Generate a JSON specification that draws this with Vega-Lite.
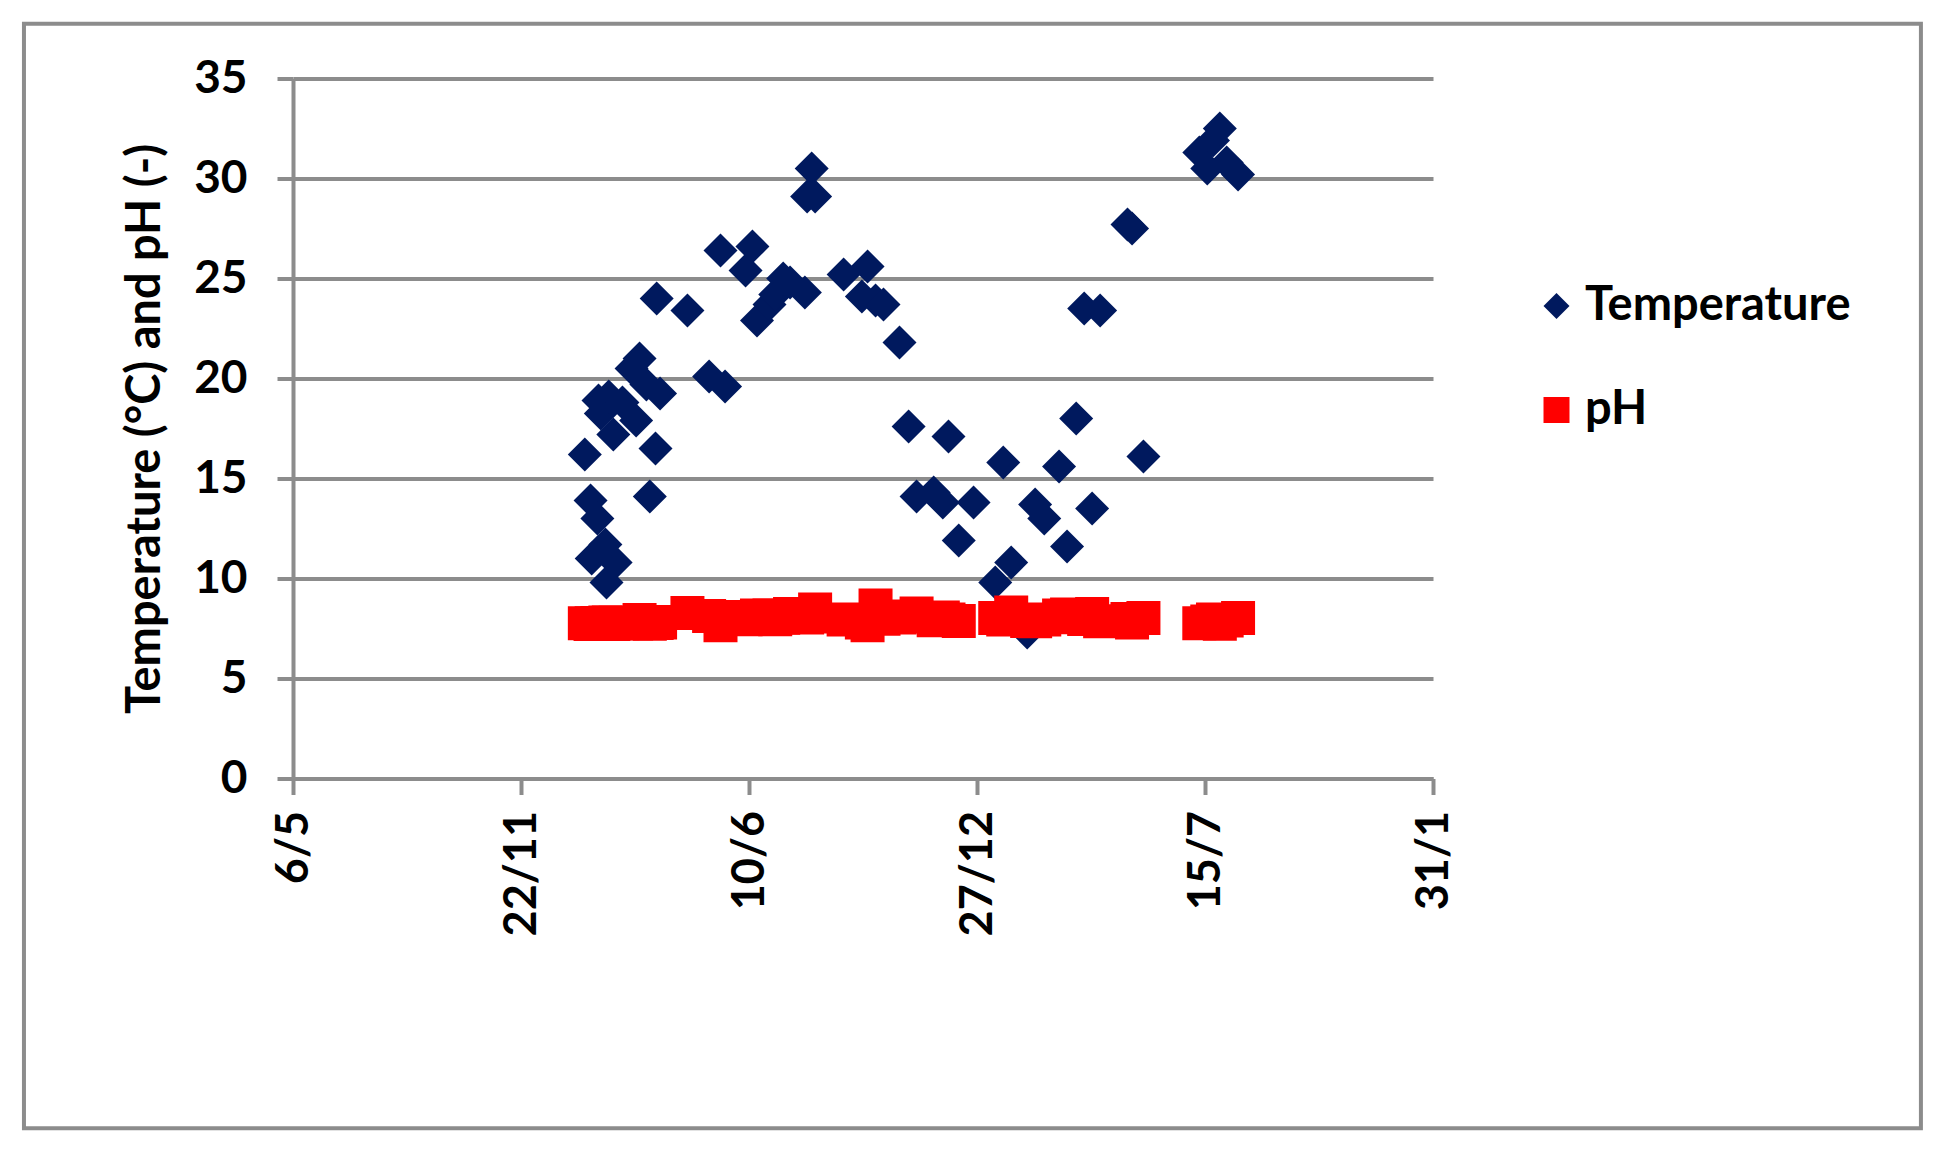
{
  "$schema": "https://vega.github.io/schema/vega-lite/v6.json",
  "background": "white",
  "padding": {"left": 21, "top": 21.5, "right": 20, "bottom": 20},
  "width": 1140,
  "height": 700,
  "config": {"view": {"stroke": null}, "font": "Lato"},
  "data": {"values": [
    {"date": "2013-01-17", "Temperature": 16.2, "pH": 7.76},
    {"date": "2013-01-22", "Temperature": 13.9, "pH": 7.72},
    {"date": "2013-01-23", "Temperature": 11.0, "pH": 7.76},
    {"date": "2013-01-28", "Temperature": 13.0, "pH": 7.78},
    {"date": "2013-01-29", "Temperature": 18.9, "pH": 7.74},
    {"date": "2013-01-31", "Temperature": 18.25, "pH": 7.78},
    {"date": "2013-02-04", "Temperature": 11.7, "pH": 7.80},
    {"date": "2013-02-05", "Temperature": 9.8, "pH": 7.76},
    {"date": "2013-02-07", "Temperature": 19.1, "pH": 7.80},
    {"date": "2013-02-11", "Temperature": 17.2, "pH": 7.73},
    {"date": "2013-02-13", "Temperature": 10.8, "pH": 7.79},
    {"date": "2013-02-19", "Temperature": 18.8, "pH": 7.76},
    {"date": "2013-02-27", "Temperature": 20.5, "pH": 7.78},
    {"date": "2013-03-03", "Temperature": 17.9, "pH": 7.75},
    {"date": "2013-03-06", "Temperature": 21.0, "pH": 7.93},
    {"date": "2013-03-12", "Temperature": 19.7, "pH": 7.80},
    {"date": "2013-03-15", "Temperature": 14.1, "pH": 7.74},
    {"date": "2013-03-20", "Temperature": 16.5, "pH": 7.83},
    {"date": "2013-03-21", "Temperature": 24.0, "pH": 7.78},
    {"date": "2013-03-24", "Temperature": 19.25, "pH": 7.80},
    {"date": "2013-04-17", "Temperature": 23.4, "pH": 8.27},
    {"date": "2013-05-06", "Temperature": 20.1, "pH": 8.12},
    {"date": "2013-05-16", "Temperature": 26.4, "pH": 7.66},
    {"date": "2013-05-20", "Temperature": 19.6, "pH": 8.08},
    {"date": "2013-06-07", "Temperature": 25.4, "pH": 7.96},
    {"date": "2013-06-13", "Temperature": 26.6, "pH": 8.00},
    {"date": "2013-06-17", "Temperature": 22.9, "pH": 8.15},
    {"date": "2013-06-28", "Temperature": 23.7, "pH": 8.15},
    {"date": "2013-07-03", "Temperature": 24.2, "pH": 7.96},
    {"date": "2013-07-10", "Temperature": 25.0, "pH": 8.04},
    {"date": "2013-07-16", "Temperature": 24.8, "pH": 8.22},
    {"date": "2013-07-29", "Temperature": 24.3, "pH": 8.10},
    {"date": "2013-07-31", "Temperature": 29.1, "pH": 8.05},
    {"date": "2013-08-04", "Temperature": 30.5, "pH": 8.10},
    {"date": "2013-08-07", "Temperature": 29.1, "pH": 8.45},
    {"date": "2013-09-01", "Temperature": 25.2, "pH": 7.95},
    {"date": "2013-09-17", "Temperature": 24.1, "pH": 7.80},
    {"date": "2013-09-22", "Temperature": 25.6, "pH": 7.66},
    {"date": "2013-09-29", "Temperature": 23.9, "pH": 8.65},
    {"date": "2013-10-06", "Temperature": 23.7, "pH": 7.99},
    {"date": "2013-10-20", "Temperature": 21.8, "pH": 8.05},
    {"date": "2013-10-28", "Temperature": 17.6, "pH": 8.10},
    {"date": "2013-11-04", "Temperature": 14.1, "pH": 8.25},
    {"date": "2013-11-19", "Temperature": 14.3, "pH": 7.91},
    {"date": "2013-11-27", "Temperature": 13.8, "pH": 8.05},
    {"date": "2013-12-02", "Temperature": 17.1, "pH": 7.95},
    {"date": "2013-12-11", "Temperature": 11.9, "pH": 7.88},
    {"date": "2013-12-24", "Temperature": 13.8, "pH": null},
    {"date": "2014-01-12", "Temperature": 9.8, "pH": 8.03},
    {"date": "2014-01-19", "Temperature": 15.8, "pH": 7.95},
    {"date": "2014-01-26", "Temperature": 10.8, "pH": 8.30},
    {"date": "2014-02-09", "Temperature": 7.3, "pH": 7.88},
    {"date": "2014-02-16", "Temperature": 13.7, "pH": 7.86},
    {"date": "2014-02-24", "Temperature": 13.0, "pH": 7.95},
    {"date": "2014-03-09", "Temperature": 15.6, "pH": 8.15},
    {"date": "2014-03-16", "Temperature": 11.6, "pH": 8.20},
    {"date": "2014-03-24", "Temperature": 18.0, "pH": 8.06},
    {"date": "2014-03-31", "Temperature": 23.5, "pH": 7.98},
    {"date": "2014-04-07", "Temperature": 13.5, "pH": 8.22},
    {"date": "2014-04-14", "Temperature": 23.4, "pH": 7.86},
    {"date": "2014-05-08", "Temperature": 27.7, "pH": 7.98},
    {"date": "2014-05-12", "Temperature": 27.5, "pH": 7.80},
    {"date": "2014-05-22", "Temperature": 16.1, "pH": 8.02},
    {"date": "2014-07-10", "Temperature": 31.3, "pH": 7.76},
    {"date": "2014-07-17", "Temperature": 30.5, "pH": 7.85},
    {"date": "2014-07-22", "Temperature": 31.9, "pH": 7.95},
    {"date": "2014-07-28", "Temperature": 32.5, "pH": 7.74},
    {"date": "2014-08-03", "Temperature": 30.8, "pH": 7.90},
    {"date": "2014-08-13", "Temperature": 30.2, "pH": 8.03}
  ]},
  "layer": [
    {
      "transform": [{"fold": ["Temperature", "pH"], "as": ["series", "value"]}],
      "mark": {"type": "point", "filled": true, "opacity": 1, "size": 1156, "strokeWidth": 0},
      "encoding": {
        "x": {
          "field": "date", "type": "temporal",
          "scale": {"type": "utc", "domain": [{"year": 2012, "month": 5, "date": 6, "utc": true}, {"year": 2015, "month": 1, "date": 31, "utc": true}]},
          "axis": {
            "title": null,
            "values": [
              {"year": 2012, "month": 5, "date": 6, "utc": true},
              {"year": 2012, "month": 11, "date": 22, "utc": true},
              {"year": 2013, "month": 6, "date": 10, "utc": true},
              {"year": 2013, "month": 12, "date": 27, "utc": true},
              {"year": 2014, "month": 7, "date": 15, "utc": true},
              {"year": 2015, "month": 1, "date": 31, "utc": true}
            ],
            "format": "%-d/%-m",
            "labelAngle": -90,
            "labelFont": "Lato", "labelFontSize": 45, "labelFontWeight": "bold", "labelColor": "black",
            "labelPadding": 16, "labelFlush": false, "labelOverlap": false, "labelBound": false,
            "tickSize": 16, "tickWidth": 4, "tickColor": "#8c8c8c",
            "domainColor": "#8c8c8c", "domainWidth": 4, "grid": false
          }
        },
        "y": {
          "field": "value", "type": "quantitative",
          "scale": {"domain": [0, 35], "nice": false, "zero": false},
          "axis": {
            "title": "Temperature (°C) and pH (-)",
            "titleFont": "Lato", "titleFontSize": 47, "titleFontWeight": "bold", "titleColor": "black", "titlePadding": 24,
            "values": [0, 5, 10, 15, 20, 25, 30, 35],
            "labelFont": "Lato", "labelFontSize": 46, "labelFontWeight": "bold", "labelColor": "black",
            "labelPadding": 30, "labelFlush": false,
            "tickSize": 16, "tickWidth": 4, "tickColor": "#8c8c8c",
            "domainColor": "#8c8c8c", "domainWidth": 4,
            "grid": true, "gridColor": "#8c8c8c", "gridWidth": 4
          }
        },
        "color": {
          "field": "series", "type": "nominal",
          "scale": {"domain": ["Temperature", "pH"], "range": ["#00195e", "#ff0000"]},
          "legend": {
            "title": null, "orient": "none", "legendX": 1240, "legendY": 204, "padding": 0,
            "labelFont": "Lato", "labelFontSize": 47, "labelFontWeight": "bold", "labelColor": "black", "labelLimit": 0,
            "symbolSize": 676, "symbolStrokeWidth": 0, "rowPadding": 56, "labelOffset": 5
          }
        },
        "shape": {
          "field": "series", "type": "nominal",
          "scale": {"domain": ["Temperature", "pH"], "range": ["diamond", "square"]},
          "legend": {
            "title": null, "orient": "none", "legendX": 1240, "legendY": 204, "padding": 0,
            "labelFont": "Lato", "labelFontSize": 47, "labelFontWeight": "bold", "labelColor": "black", "labelLimit": 0,
            "symbolSize": 676, "symbolStrokeWidth": 0, "rowPadding": 56, "labelOffset": 5
          }
        },
        "order": {"field": "series", "sort": "ascending"}
      }
    },
    {
      "data": {"values": [{}]},
      "mark": {"type": "rect", "filled": false, "stroke": "#8c8c8c", "strokeWidth": 4, "clip": false},
      "encoding": {
        "x": {"datum": {"year": 2011, "month": 9, "date": 13, "utc": true}, "type": "temporal",
              "scale": {"type": "utc", "domain": [{"year": 2012, "month": 5, "date": 6, "utc": true}, {"year": 2015, "month": 1, "date": 31, "utc": true}]}},
        "x2": {"datum": {"year": 2016, "month": 4, "date": 3, "utc": true}},
        "y": {"datum": 37.74, "type": "quantitative", "scale": {"domain": [0, 35], "nice": false, "zero": false}},
        "y2": {"datum": -17.49}
      }
    }
  ]
}
